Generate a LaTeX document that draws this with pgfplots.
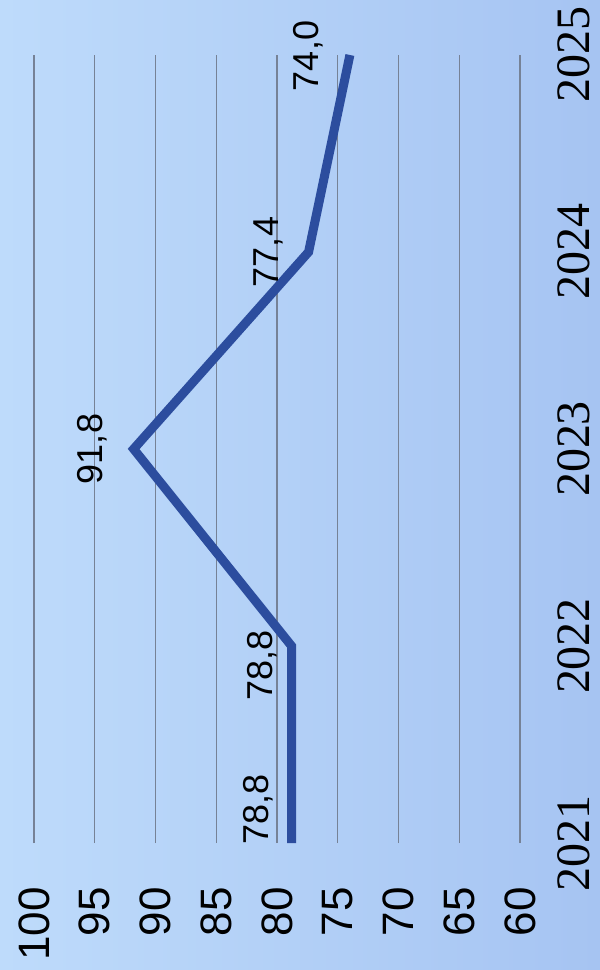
\documentclass[border=0pt]{standalone}
\usepackage{fontspec}
\setmainfont{Liberation Serif}
\newfontfamily\arial{Liberation Sans}
\newfontfamily\timesfont{Liberation Serif}
\usepackage{pgfplots}
\pgfplotsset{compat=1.18}
\definecolor{bgA}{RGB}{190,219,251}
\definecolor{bgB}{RGB}{166,196,242}
\definecolor{lineblue}{RGB}{44,77,158}
\definecolor{gridgray}{RGB}{118,130,150}
\begin{document}
\begin{tikzpicture}
\shade[left color=bgA, right color=bgB] (0pt,0pt) rectangle (600pt,970pt);
\begin{axis}[
  at={(34pt,127pt)}, anchor=south west, scale only axis,
  width=486pt, height=788pt,
  xmin=60, xmax=100, x dir=reverse,
  ymin=0, ymax=4,
  clip=false,
  axis line style={draw=none},
  major tick length=0pt,
  xtick={60,65,70,75,80,85,90,95,100},
  xticklabels={60,65,70,75,80,85,90,95,100},
  ytick={0,1,2,3,4},
  yticklabels={\timesfont 2021,\timesfont 2022,\timesfont 2023,\timesfont 2024,\timesfont 2025},
  yticklabel pos=right,
  xmajorgrids,
  grid style={gridgray, line width=1.3pt},
  xticklabel shift=44pt,
  yticklabel shift=37pt,
  xticklabel style={font=\arial\fontsize{44}{44}\selectfont, rotate=90, anchor=east, inner sep=0pt, text=black},
  yticklabel style={font=\timesfont\fontsize{48}{48}\selectfont, rotate=90, anchor=north, inner sep=0pt, text=black},
]
\addplot[lineblue, line width=9pt, line join=miter, line cap=butt] coordinates {
  (78.8,0) (78.8,1) (91.8,2) (77.4,3) (74.0,4)
};
\node[rotate=90, inner sep=0pt, font=\arial\fontsize{36}{36}\selectfont] at (axis cs:81.56,0.17) {78,8};
\node[rotate=90, inner sep=0pt, font=\arial\fontsize{36}{36}\selectfont] at (axis cs:81.23,0.90) {78,8};
\node[rotate=90, inner sep=0pt, font=\arial\fontsize{36}{36}\selectfont] at (axis cs:95.23,2.00) {91,8};
\node[rotate=90, inner sep=0pt, font=\arial\fontsize{36}{36}\selectfont] at (axis cs:80.74,3.00) {77,4};
\node[rotate=90, inner sep=0pt, font=\arial\fontsize{36}{36}\selectfont] at (axis cs:77.45,3.995) {74,0};
\end{axis}
\pgfresetboundingbox
\useasboundingbox (0pt,0pt) rectangle (600pt,970pt);
\end{tikzpicture}
\end{document}
